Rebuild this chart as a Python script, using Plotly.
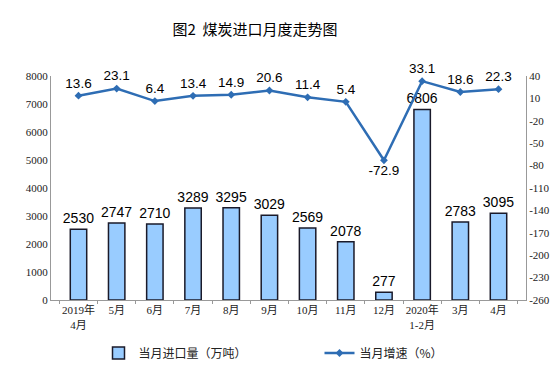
import plotly.graph_objects as go

categories = ["2019年<br>4月", "5月", "6月", "7月", "8月", "9月", "10月", "11月", "12月", "2020年<br>1-2月", "3月", "4月"]
imports = [2530, 2747, 2710, 3289, 3295, 3029, 2569, 2078, 277, 6806, 2783, 3095]
growth = [13.6, 23.1, 6.4, 13.4, 14.9, 20.6, 11.4, 5.4, -72.9, 33.1, 18.6, 22.3]
left_ticks = [0, 1000, 2000, 3000, 4000, 5000, 6000, 7000, 8000]
right_ticks = [-260, -230, -200, -170, -140, -110, -80, -50, -20, 10, 40]

text_pos = ["bottom center" if v < 0 else "top center" for v in growth]

fig = go.Figure()
fig.add_trace(go.Bar(
    x=categories, y=imports, name="当月进口量（万吨）",
    marker=dict(color="#99CCFF", line=dict(color="#1a1a2a", width=1.5)),
    width=0.43,
    text=[str(v) for v in imports], textposition="outside", cliponaxis=False,
    constraintext="none",
    textfont=dict(family="Arial, Liberation Sans", size=14, color="#000"),
    yaxis="y",
))
fig.add_trace(go.Scatter(
    x=categories, y=growth, name="当月增速（%）",
    mode="lines+markers+text",
    line=dict(color="#2E6DB4", width=2.5),
    marker=dict(symbol="diamond", size=6, color="#2E6DB4"),
    text=[f"{v:.1f}" for v in growth], textposition=text_pos, cliponaxis=False,
    textfont=dict(family="Arial, Liberation Sans", size=13.5, color="#000"),
    yaxis="y2",
))

tickfont = dict(family="Liberation Serif, DejaVu Serif, Noto Sans CJK SC", size=11, color="#222")
fig.update_layout(
    width=559, height=370,
    margin=dict(l=43, r=41, t=68, b=77),
    paper_bgcolor="white", plot_bgcolor="white",
    title=dict(text="图2  煤炭进口月度走势图", x=247/559, xanchor="center", y=1-22/370, yanchor="middle",
               font=dict(family="Noto Sans CJK SC", size=15, color="#000")),
    showlegend=True,
    legend=dict(orientation="h", x=0.10, xanchor="left", y=-0.231, yanchor="middle",
                entrywidth=176, font=dict(family="Noto Sans CJK SC", size=12, color="#222")),
    xaxis=dict(showline=True, linecolor="#999", linewidth=1, ticks="outside", tickson="boundaries",
               ticklen=3, tickcolor="#999", tickfont=tickfont, showgrid=False, tickangle=0),
    yaxis=dict(range=[0, 8000], tickvals=left_ticks, ticktext=[str(v) for v in left_ticks],
               showline=True, linecolor="#999", linewidth=1,
               ticks="", showgrid=False, tickfont=tickfont, zeroline=False),
    yaxis2=dict(range=[-260, 40], tickvals=right_ticks, ticktext=[str(v) for v in right_ticks],
                overlaying="y", side="right", showline=True,
                linecolor="#999", linewidth=1, ticks="", showgrid=False, tickfont=tickfont, zeroline=False),
    bargap=0.5,
)
fig.write_html("out.html")
